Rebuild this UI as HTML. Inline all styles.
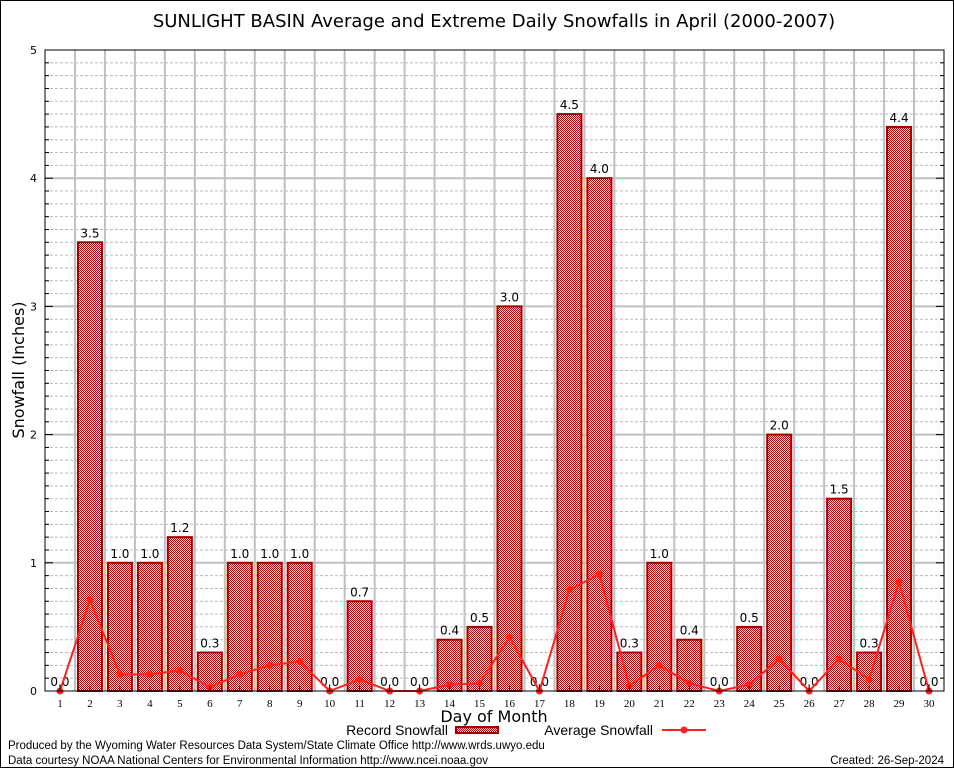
<!DOCTYPE html>
<html><head><meta charset="utf-8"><style>
body{margin:0;background:#fff;}
svg text{font-family:"DejaVu Sans","Liberation Sans",sans-serif;}
</style></head><body>
<svg width="954" height="768" xmlns="http://www.w3.org/2000/svg">
<defs>
<pattern id="chk" width="2" height="2" patternUnits="userSpaceOnUse">
<rect width="2" height="2" fill="#fff"/><rect width="1" height="1" fill="#b00000"/><rect x="1" y="1" width="1" height="1" fill="#b00000"/>
</pattern>
</defs>
<rect x="0.5" y="0.5" width="953" height="767" fill="#fff" stroke="#000"/>
<text x="494" y="27" font-size="18" text-anchor="middle">SUNLIGHT BASIN Average and Extreme Daily Snowfalls in April (2000-2007)</text>
<g id="grid"></g>
<g id="bars"></g>
<g id="line"></g>
<rect x="45" y="50" width="899" height="641" fill="none" stroke="#000"/>
<g id="axes"></g>
<text x="24" y="370" font-size="16" text-anchor="middle" transform="rotate(-90 24 370)">Snowfall (Inches)</text>
<text x="494" y="722" font-size="16" text-anchor="middle">Day of Month</text>
<g>
<text x="448" y="735" font-size="13" text-anchor="end" style="font-family:'Liberation Sans',sans-serif;font-size:14px">Record Snowfall</text>
<rect x="456" y="727" width="42" height="6" fill="url(#chk)" stroke="#a00000" stroke-width="2"/>
</g>
<g>
<text x="653" y="735" font-size="13" text-anchor="end" style="font-family:'Liberation Sans',sans-serif;font-size:14px">Average Snowfall</text>
<line x1="662" y1="730" x2="706" y2="730" stroke="#ff2020" stroke-width="2"/>
<circle cx="684" cy="730" r="3.5" fill="#ff2020"/>
</g>
<text x="8" y="749" style="font-family:'Liberation Sans',sans-serif;font-size:11.5px">Produced by the Wyoming Water Resources Data System/State Climate Office http://www.wrds.uwyo.edu</text>
<text x="8" y="764" style="font-family:'Liberation Sans',sans-serif;font-size:11.5px">Data courtesy NOAA National Centers for Environmental Information http://www.ncei.noaa.gov</text>
<text x="944" y="764" text-anchor="end" style="font-family:'Liberation Sans',sans-serif;font-size:11.5px">Created: 26-Sep-2024</text>
</svg>
<script>
const days=[1,2,3,4,5,6,7,8,9,10,11,12,13,14,15,16,17,18,19,20,21,22,23,24,25,26,27,28,29,30];
const recordVals=[0,3.5,1,1,1.2,0.3,1,1,1,0,0.7,0,0,0.4,0.5,3,0,4.5,4,0.3,1,0.4,0,0.5,2,0,1.5,0.3,4.4,0];
const avgVals=[0,0.71,0.13,0.13,0.16,0.03,0.13,0.2,0.23,0,0.09,0,0,0.05,0.06,0.42,0,0.79,0.91,0.04,0.2,0.06,0,0.05,0.25,0,0.25,0.09,0.85,0];
const yTicks=[0,1,2,3,4,5];
const NS="http://www.w3.org/2000/svg";
const X0=45,X1=944,Y0=691,Y1=50,YMAX=5;
const dw=(X1-X0)/30;
function xs(d){return X0+(d-0.5)*dw;}
function ys(v){return Y0-(v/YMAX)*(Y0-Y1);}
function mk(tag,attrs,parent){const e=document.createElementNS(NS,tag);for(const k in attrs)e.setAttribute(k,attrs[k]);document.getElementById(parent).appendChild(e);return e;}
for(let i=1;i<50;i++){const v=i/10;if(i%10===0)continue;
 const l=mk('line',{x1:X0,x2:X1,y1:ys(v),y2:ys(v),stroke:'#bbb','stroke-dasharray':'3,2','stroke-width':1},'grid');
 
 }
for(let d=1;d<30;d++){const l=mk('line',{x1:X0+d*dw,x2:X0+d*dw,y1:Y1,y2:Y0,stroke:'#c0c0c0','stroke-width':2},'grid');
 
 }
yTicks.forEach(t=>{if(t===0||t===5)return;const l=mk('line',{x1:X0,x2:X1,y1:ys(t),y2:ys(t),stroke:'#c0c0c0','stroke-width':2},'grid');
 
 });
yTicks.forEach(t=>{
 const tx=mk('text',{x:X0-8,y:ys(t)+4,'font-size':11,'text-anchor':'end'},'axes');tx.textContent=t;
 
 
 mk('line',{x1:X0,x2:X0+8,y1:ys(t),y2:ys(t),stroke:'#000'},'axes');
 mk('line',{x1:X1-8,x2:X1,y1:ys(t),y2:ys(t),stroke:'#000'},'axes');});
for(let i=1;i<50;i++){if(i%10===0)continue;const v=i/10;
 mk('line',{x1:X0,x2:X0+4,y1:ys(v),y2:ys(v),stroke:'#000'},'axes');
 mk('line',{x1:X1-4,x2:X1,y1:ys(v),y2:ys(v),stroke:'#000'},'axes');}
days.forEach(d=>{
 const tx=mk('text',{x:xs(d),y:Y0+16,'font-size':11,'text-anchor':'middle','style':'font-family:"Liberation Serif",serif'},'axes');tx.textContent=d;
 
 
 mk('line',{x1:xs(d),x2:xs(d),y1:Y0,y2:Y0-5,stroke:'#000'},'axes');});
days.forEach((d,i)=>{const v=recordVals[i];
 if(v>0){const r=mk('rect',{x:xs(d)-12,y:ys(v),width:24,height:Y0-ys(v),fill:'url(#chk)',stroke:'#a00000','stroke-width':2},'bars');
 
 }
 const t=mk('text',{x:xs(d),y:ys(v)-5,'font-size':12,'text-anchor':'middle'},'bars');t.textContent=v.toFixed(1);
 
 });
const pts=days.map((d,i)=>xs(d)+','+ys(avgVals[i])).join(' ');
const pl=mk('polyline',{points:pts,fill:'none',stroke:'#ff2020','stroke-width':2},'line');


days.forEach((d,i)=>{const c=mk('circle',{cx:xs(d),cy:ys(avgVals[i]),r:3.5,fill:'#ff2020'},'line');
 
 });
</script>
</body></html>
